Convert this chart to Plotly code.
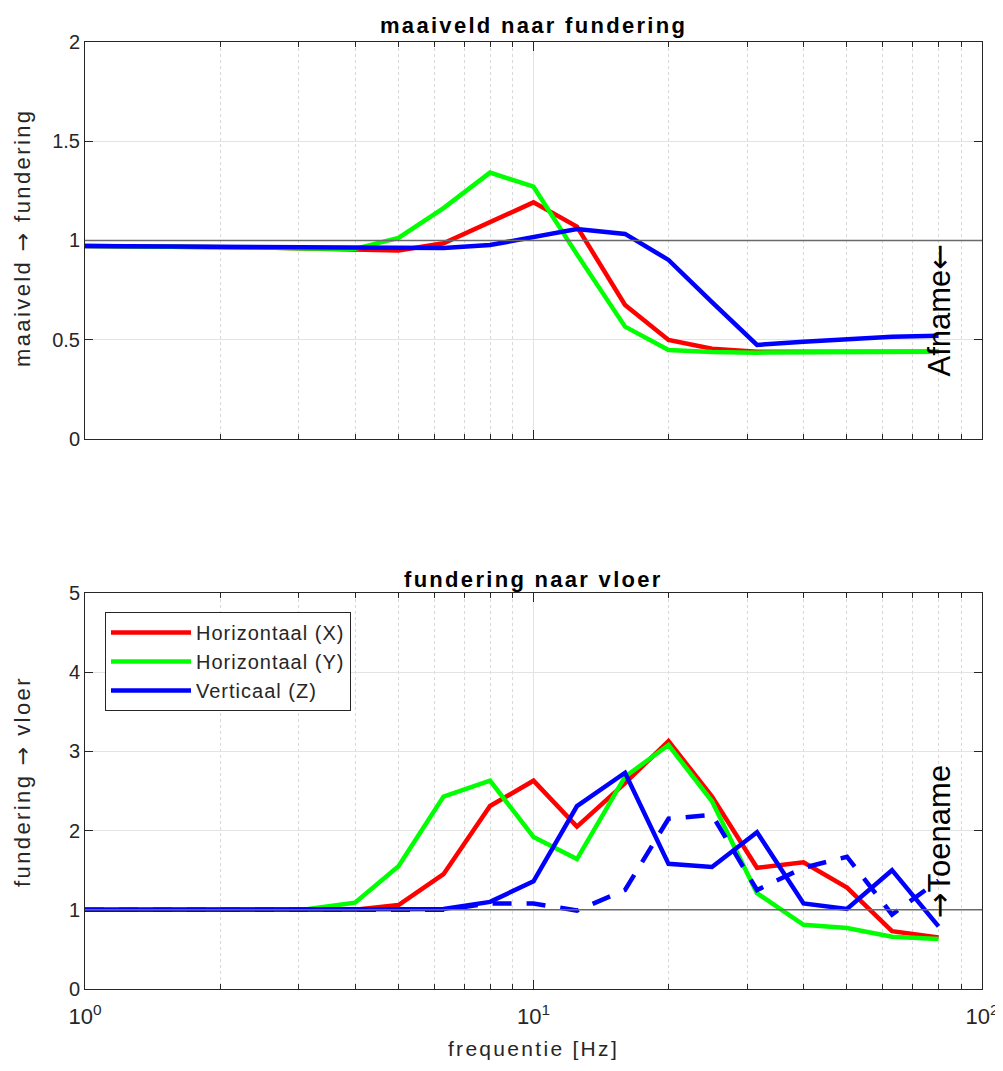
import plotly.graph_objects as go

# ---- data ----
freq = [1, 1.25, 1.6, 2, 2.5, 3.15, 4, 5, 6.3, 8, 10, 12.5, 16, 20, 25, 31.5, 40, 50, 63, 80]

top_x = [0.972, 0.971, 0.970, 0.968, 0.965, 0.960, 0.955, 0.950, 0.986, 1.095, 1.192, 1.07, 0.675, 0.499, 0.455, 0.440, 0.440, 0.440, 0.440, 0.440]
top_y = [0.972, 0.971, 0.970, 0.968, 0.965, 0.960, 0.958, 1.013, 1.163, 1.342, 1.271, 0.93, 0.566, 0.448, 0.438, 0.435, 0.436, 0.437, 0.438, 0.440]
top_z = [0.972, 0.971, 0.970, 0.969, 0.968, 0.966, 0.964, 0.962, 0.962, 0.977, 1.015, 1.058, 1.033, 0.902, 0.69, 0.474, 0.49, 0.505, 0.515, 0.520]

bot_x = [1.0, 1.0, 1.0, 1.0, 1.0, 1.0, 1.0, 1.06, 1.45, 2.31, 2.63, 2.05, 2.6, 3.13, 2.43, 1.53, 1.60, 1.28, 0.73, 0.65]
bot_y = [1.0, 1.0, 1.0, 1.0, 1.0, 1.01, 1.09, 1.55, 2.43, 2.63, 1.92, 1.64, 2.68, 3.08, 2.37, 1.21, 0.81, 0.77, 0.66, 0.63]
bot_z = [1.0, 1.0, 1.0, 1.0, 1.0, 1.0, 1.0, 1.0, 1.01, 1.1, 1.36, 2.31, 2.73, 1.58, 1.54, 1.98, 1.08, 1.01, 1.5, 0.79]
bot_z_dash = [1.0, 1.0, 1.0, 1.0, 1.0, 1.0, 1.0, 1.0, 1.0, 1.08, 1.08, 0.99, 1.25, 2.15, 2.2, 1.25, 1.53, 1.67, 0.94, 1.37]

series_names = ["Horizontaal (X)", "Horizontaal (Y)", "Verticaal (Z)"]
colors = ["#ff0000", "#00ff00", "#0000ff"]

x_tickvals = [1, 10, 100]
x_ticktext = ["10<sup>0</sup>", "10<sup>1</sup>", "10<sup>2</sup>"]
top_yticks = [0, 0.5, 1, 1.5, 2]
top_yticktext = ["0", "0.5", "1", "1.5", "2"]
bot_yticks = [0, 1, 2, 3, 4, 5]

FONT = "Liberation Sans, Arial, Helvetica, sans-serif"
TXT = "#262626"
ARROW_FONT = "DejaVu Sans"


def spaced(text, px):
    return f'<span style="letter-spacing:{px}px">{text}</span>'


def arrow(a, family=ARROW_FONT):
    return f'<span style="font-family:{family}">{a}</span>'


fig = go.Figure()

for vals, name, c in zip([top_x, top_y, top_z], series_names, colors):
    fig.add_trace(go.Scatter(x=freq, y=vals, mode="lines", name=name,
                             line=dict(color=c, width=4.5), showlegend=False,
                             xaxis="x", yaxis="y"))

for vals, name, c in zip([bot_x, bot_y, bot_z], series_names, colors):
    fig.add_trace(go.Scatter(x=freq, y=vals, mode="lines", name=spaced(name, 1),
                             line=dict(color=c, width=4.5), showlegend=True,
                             xaxis="x2", yaxis="y2"))

fig.add_trace(go.Scatter(x=freq, y=bot_z_dash, mode="lines", name="Verticaal (Z) alt",
                         line=dict(color="#0000ff", width=4.5, dash="19px,15px"),
                         showlegend=False, xaxis="x2", yaxis="y2"))

common_x = dict(
    type="log", range=[0, 2], tickvals=x_tickvals, ticktext=x_ticktext,
    showline=True, linecolor="#262626", linewidth=1, mirror="ticks",
    ticks="inside", ticklen=9, tickcolor="#262626",
    showgrid=True, gridcolor="#e3e3e3", gridwidth=1, zeroline=False,
    minor=dict(dtick="D1", ticks="inside", ticklen=5, tickcolor="#262626",
               showgrid=True, gridcolor="#d8d8d8", griddash="dot", gridwidth=1),
    tickfont=dict(family=FONT, size=22, color=TXT),
    automargin=False,
)
common_y = dict(
    showline=True, linecolor="#262626", linewidth=1, mirror="ticks",
    ticks="inside", ticklen=8, tickcolor="#262626",
    showgrid=True, gridcolor="#e3e3e3", gridwidth=1, zeroline=False,
    tickfont=dict(family=FONT, size=20, color=TXT),
    automargin=False,
)

top_dom = [0.5808, 1.0]
bot_dom = [0.0, 0.4182]

# page body adds an 8px offset; figure sized so the plot area lands where the reference has it
fig.update_layout(
    width=995, height=1063,
    margin=dict(l=77, r=21, t=34, b=82, autoexpand=False),
    paper_bgcolor="white", plot_bgcolor="white",
    font=dict(family=FONT, color=TXT),
    xaxis=dict(common_x, domain=[0, 1], anchor="y", showticklabels=False),
    yaxis=dict(common_y, domain=top_dom, anchor="x", range=[0, 2], tickvals=top_yticks,
               ticktext=top_yticktext),
    xaxis2=dict(common_x, domain=[0, 1], anchor="y2", ticklabelstandoff=8,
                title=dict(text=spaced("frequentie [Hz]", 2.3),
                           font=dict(family=FONT, size=21, color=TXT), standoff=12)),
    yaxis2=dict(common_y, domain=bot_dom, anchor="x2", range=[0, 5], tickvals=bot_yticks),
    legend=dict(x=(105 - 85) / 897, y=(989 - 612) / 947, xanchor="left", yanchor="top",
                bgcolor="white", bordercolor="#262626", borderwidth=1,
                font=dict(family=FONT, size=20, color=TXT), tracegroupgap=0,
                itemwidth=80),
    showlegend=True,
)

# reference lines at 1
for xr, yr in [("x", "y"), ("x2", "y2")]:
    fig.add_shape(type="line", xref=f"{xr} domain", yref=yr, x0=0, x1=1, y0=1, y1=1,
                  line=dict(color="#6a6a6a", width=1.5), layer="above")

# titles and labels
fig.add_annotation(text="<b>" + spaced("maaiveld naar fundering", 2.3) + "</b>", xref="paper", yref="paper",
                   x=0.5, y=1 + (42 - 26) / 947, xanchor="center", yanchor="middle", showarrow=False,
                   font=dict(family=FONT, size=22, color="#000000"))
fig.add_annotation(text="<b>" + spaced("fundering naar vloer", 2.3) + "</b>", xref="paper", yref="paper",
                   x=0.5, y=(989 - 579) / 947, xanchor="center", yanchor="middle", showarrow=False,
                   font=dict(family=FONT, size=22, color="#000000"))
fig.add_annotation(text=spaced("maaiveld " + arrow("\u2192") + " fundering", 2.4), xref="paper", yref="paper",
                   x=(22 - 85) / 897, y=(989 - 238) / 947, xanchor="center", yanchor="middle",
                   textangle=-90, showarrow=False, font=dict(family=FONT, size=22, color=TXT))
fig.add_annotation(text=spaced("fundering " + arrow("\u2192") + " vloer", 2.4), xref="paper", yref="paper",
                   x=(22 - 85) / 897, y=(989 - 782) / 947, xanchor="center", yanchor="middle",
                   textangle=-90, showarrow=False, font=dict(family=FONT, size=22, color=TXT))

fig.add_annotation(text="Afname" + arrow("\u2190"), xref="x", yref="y", x=0.903 + 1, y=0.995,
                   xanchor="center", yanchor="top", textangle=-90, showarrow=False,
                   font=dict(family=FONT, size=31, color="#000000"))
fig.add_annotation(text=arrow("\u2192") + "Toename", xref="x2", yref="y2", x=0.903 + 1, y=0.86,
                   xanchor="center", yanchor="bottom", textangle=-90, showarrow=False,
                   font=dict(family=FONT, size=31, color="#000000"))

fig.write_html("out.html")
